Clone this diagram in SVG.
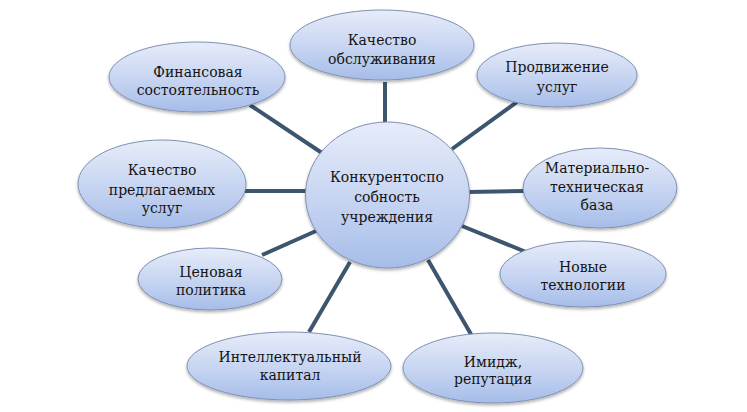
<svg xmlns="http://www.w3.org/2000/svg" width="747" height="412" viewBox="0 0 747 412">
<defs>
<linearGradient id="g" x1="0" y1="0" x2="0" y2="1">
<stop offset="0" stop-color="#e6ecf9"/>
<stop offset="0.5" stop-color="#c9d6f2"/>
<stop offset="1" stop-color="#a6bde9"/>
</linearGradient>
<filter id="sh" x="-10%" y="-10%" width="120%" height="130%">
<feDropShadow dx="0" dy="2" stdDeviation="1.5" flood-color="#000" flood-opacity="0.3"/>
</filter>
</defs>
<style>
.n{fill:url(#g);stroke:#7f91b3;stroke-width:1;filter:url(#sh)}
.c line{stroke:#3c566f;stroke-width:4}
.t text{fill:#141414;text-anchor:middle;font-family:"DejaVu Serif",serif;font-size:14px}
</style>
<rect width="747" height="412" fill="#fff"/>
<g class="c" id="connectors">
<line x1="385" y1="82" x2="385" y2="124"/>
<line x1="250" y1="105" x2="322" y2="153"/>
<line x1="517" y1="102" x2="452" y2="149"/>
<line x1="468" y1="192" x2="525" y2="191"/>
<line x1="462" y1="226" x2="526" y2="252"/>
<line x1="428" y1="260" x2="472" y2="336"/>
<line x1="350" y1="262" x2="309" y2="332"/>
<line x1="262" y1="255" x2="316" y2="231"/>
<line x1="245" y1="191" x2="307" y2="191"/>
</g>
<g class="t">
<g id="center"><ellipse class="n" cx="387.5" cy="195" rx="82" ry="73"/>
<text x="387" y="182">Конкурентоспо</text><text x="387" y="202">собность</text><text x="387" y="222">учреждения</text></g>
<g id="n1"><ellipse class="n" cx="382" cy="45" rx="92" ry="35"/>
<text x="382" y="45">Качество</text><text x="382" y="64">обслуживания</text></g>
<g id="n2"><ellipse class="n" cx="197" cy="77" rx="88" ry="35"/>
<text x="198" y="77">Финансовая</text><text x="198" y="95">состоятельность</text></g>
<g id="n3"><ellipse class="n" cx="557" cy="75" rx="80" ry="32"/>
<text x="557" y="72">Продвижение</text><text x="557" y="92">услуг</text></g>
<g id="n4"><ellipse class="n" cx="600" cy="188" rx="77" ry="40"/>
<text x="597" y="173">Материально-</text><text x="597" y="192">техническая</text><text x="597" y="210">база</text></g>
<g id="n5"><ellipse class="n" cx="583" cy="274" rx="83" ry="33"/>
<text x="583" y="272">Новые</text><text x="583" y="290">технологии</text></g>
<g id="n6"><ellipse class="n" cx="493" cy="368" rx="90" ry="35"/>
<text x="493" y="367">Имидж,</text><text x="493" y="384">репутация</text></g>
<g id="n7"><ellipse class="n" cx="289" cy="366" rx="102" ry="34"/>
<text x="290" y="362">Интеллектуальный</text><text x="290" y="380">капитал</text></g>
<g id="n8"><ellipse class="n" cx="210" cy="279" rx="72" ry="31"/>
<text x="211" y="277">Ценовая</text><text x="211" y="295">политика</text></g>
<g id="n9"><ellipse class="n" cx="162" cy="184" rx="84" ry="44"/>
<text x="162" y="175">Качество</text><text x="162" y="195">предлагаемых</text><text x="162" y="213">услуг</text></g>
</g>
</svg>
